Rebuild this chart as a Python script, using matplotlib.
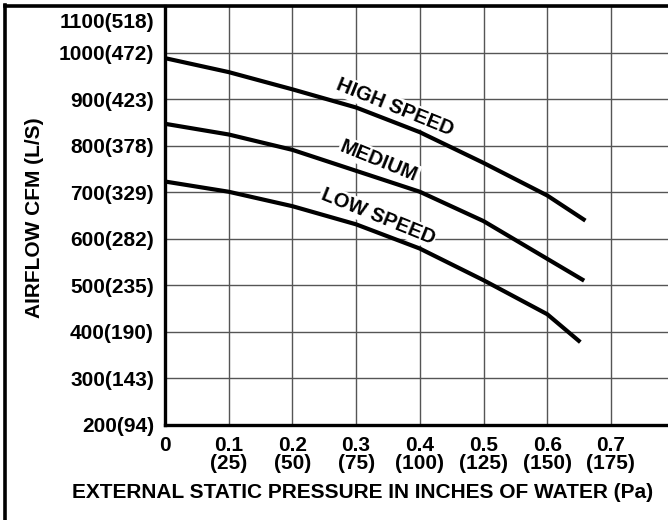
import matplotlib
matplotlib.use("Agg")
import matplotlib.pyplot as plt
from matplotlib.lines import Line2D
from matplotlib import transforms

plt.rcParams['font.family'] = ['Liberation Sans', 'DejaVu Sans']
plt.rcParams['font.weight'] = 'bold'

# Data
pressure = [0.0, 0.1, 0.2, 0.3, 0.4, 0.5, 0.6, 0.66]
high_speed = [988, 958, 921, 882, 829, 763, 693, 639]
medium_x = [0.0, 0.1, 0.2, 0.3, 0.4, 0.5, 0.6, 0.658]
medium = [847, 824, 791, 746, 701, 638, 557, 510]
low_x = [0.0, 0.1, 0.2, 0.3, 0.4, 0.5, 0.6, 0.652]
low_speed = [723, 701, 670, 631, 579, 511, 438, 378]

x_ticks = [0, 0.1, 0.2, 0.3, 0.4, 0.5, 0.6, 0.7]
x_labels = ['0', '0.1\n(25)', '0.2\n(50)', '0.3\n(75)', '0.4\n(100)', '0.5\n(125)', '0.6\n(150)', '0.7\n(175)']
y_ticks = [200, 300, 400, 500, 600, 700, 800, 900, 1000, 1100]
y_labels = ['200(94)', '300(143)', '400(190)', '500(235)', '600(282)', '700(329)',
            '800(378)', '900(423)', '1000(472)', '1100(518)']

W, H = 668, 520
fig = plt.figure(figsize=(W / 100, H / 100), dpi=100)
ax = fig.add_axes([165 / W, 1 - 425 / H, 1 - 165 / W, (425 - 6) / H])

ax.set_xlim(0, (668 - 165) / 637.0)
ax.set_ylim(200, 1100)

ax.set_xticks(x_ticks)
ax.set_xticklabels(x_labels, fontsize=15, fontweight='bold', linespacing=0.95, va='top')
ax.set_yticks(y_ticks)
ax.set_yticklabels(y_labels, fontsize=15, fontweight='bold')
ax.tick_params(axis='both', length=0)
ax.tick_params(axis='y', pad=8)
ax.tick_params(axis='x', pad=8)

# shift the top y tick label down so it sits inside the frame
top_lbl = ax.get_yticklabels()[-1]
top_lbl.set_transform(top_lbl.get_transform() +
                      transforms.ScaledTranslation(0, -14 / 100, fig.dpi_scale_trans))

ax.grid(True, color='#555555', linewidth=1.0)
ax.set_axisbelow(True)

for side in ['top', 'right']:
    ax.spines[side].set_visible(False)
ax.spines['left'].set_linewidth(2.4)
ax.spines['bottom'].set_linewidth(2.4)

for xs, ys in [(pressure, high_speed), (medium_x, medium), (low_x, low_speed)]:
    ax.plot(xs, ys, color='black', linewidth=3, solid_capstyle='butt',
            solid_joinstyle='round', zorder=3)

bbox = dict(facecolor='white', edgecolor='none', pad=1.0)
ax.text(0.361, 882, 'HIGH SPEED', rotation=-22, ha='center', va='center',
        fontsize=14.5, fontweight='bold', bbox=bbox, zorder=2.5)
ax.text(0.336, 767, 'MEDIUM', rotation=-22, ha='center', va='center',
        fontsize=14.5, fontweight='bold', bbox=bbox, zorder=2.5)
ax.text(0.334, 648, 'LOW SPEED', rotation=-22, ha='center', va='center',
        fontsize=14.5, fontweight='bold', bbox=bbox, zorder=2.5)

fig.text(34.5 / W, 1 - 218 / H, 'AIRFLOW CFM (L/S)', rotation=90, ha='center', va='center',
         fontsize=15, fontweight='bold')
fig.text(363 / W, 1 - 493 / H, 'EXTERNAL STATIC PRESSURE IN INCHES OF WATER (Pa)',
         ha='center', va='center', fontsize=15, fontweight='bold')

# outer frame (left and top)
fig.add_artist(Line2D([5 / W, 5 / W], [0, 1 - 5 / H], transform=fig.transFigure,
                      color='black', linewidth=2.6))
fig.add_artist(Line2D([5 / W, 1], [1 - 5.5 / H, 1 - 5.5 / H], transform=fig.transFigure,
                      color='black', linewidth=2.6))

fig.savefig('out.png', dpi=100)
